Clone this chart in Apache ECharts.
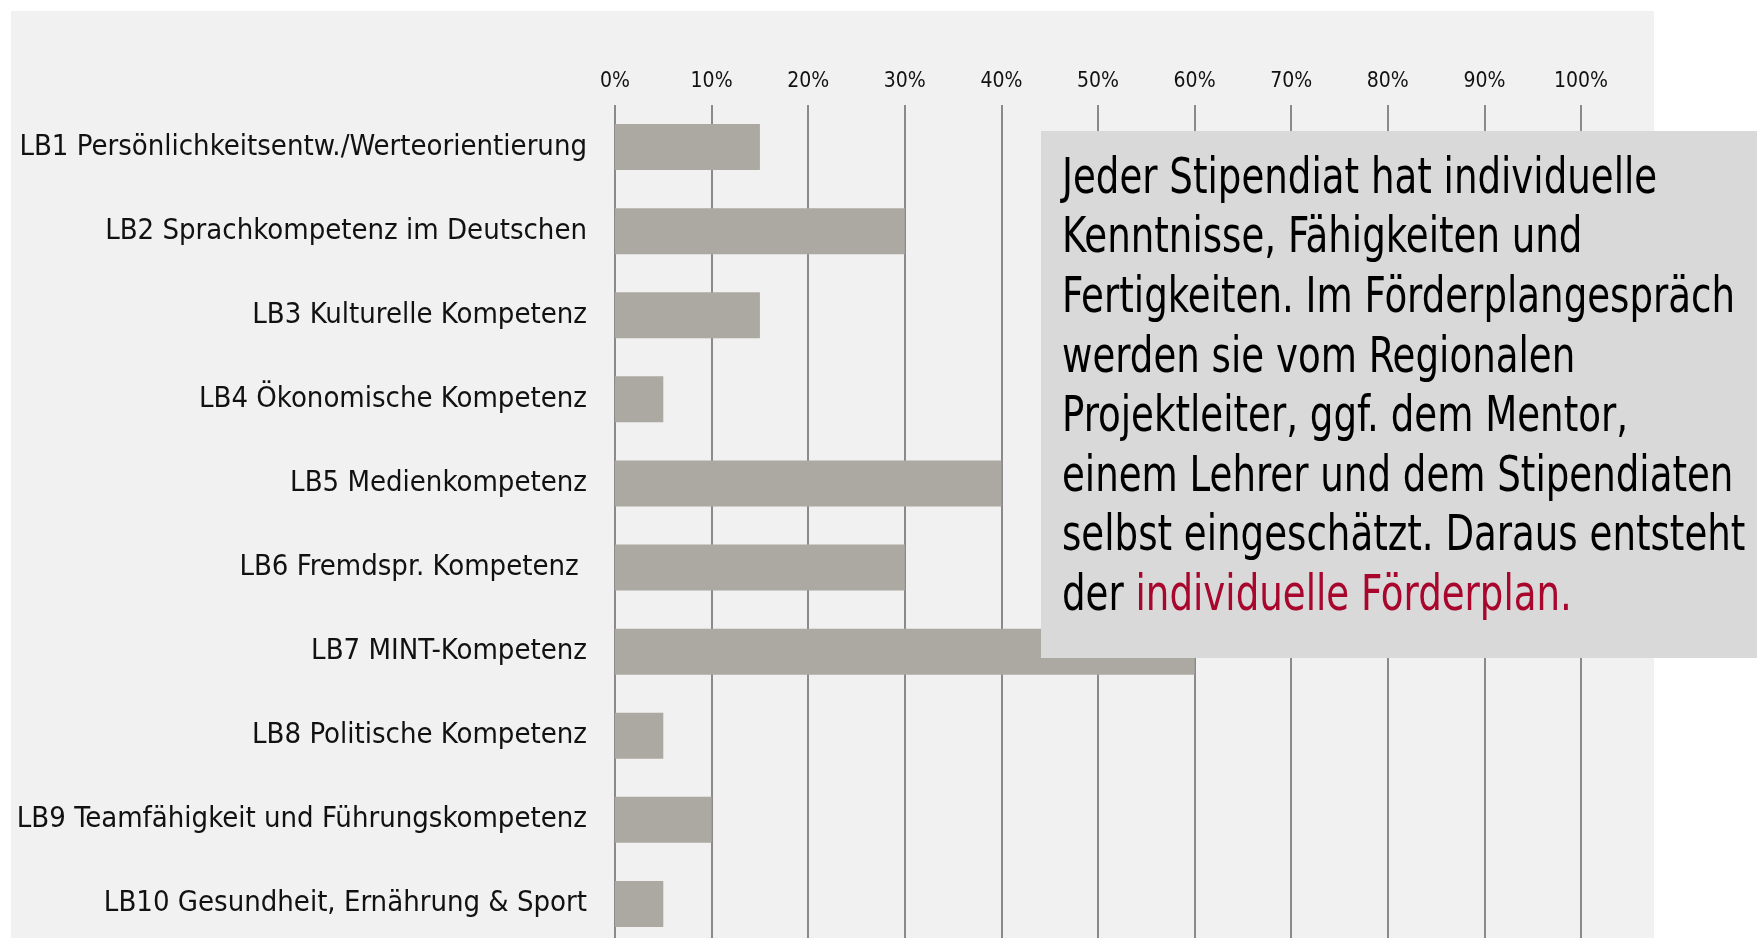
<!DOCTYPE html>
<html>
<head>
<meta charset="utf-8">
<script src="https://cdn.jsdelivr.net/npm/echarts@6/dist/echarts.min.js"></script>
<style>
html,body{margin:0;padding:0;background:#fff;}
#c{width:1757px;height:938px;}
</style>
</head>
<body>
<div id="c"></div>
<script>
const categories = [
  'LB1 Persönlichkeitsentw./Werteorientierung',
  'LB2 Sprachkompetenz im Deutschen',
  'LB3 Kulturelle Kompetenz',
  'LB4 Ökonomische Kompetenz',
  'LB5 Medienkompetenz',
  'LB6 Fremdspr. Kompetenz ',
  'LB7 MINT-Kompetenz',
  'LB8 Politische Kompetenz',
  'LB9 Teamfähigkeit und Führungskompetenz',
  'LB10 Gesundheit, Ernährung & Sport'
];
const values = [15, 30, 15, 5, 40, 30, 60, 5, 10, 5];
const tickLabels = ['0%','10%','20%','30%','40%','50%','60%','70%','80%','90%','100%'];
const noteLines = [
  'Jeder Stipendiat hat individuelle',
  'Kenntnisse, Fähigkeiten und',
  'Fertigkeiten. Im Förderplangespräch',
  'werden sie vom Regionalen',
  'Projektleiter, ggf. dem Mentor,',
  'einem Lehrer und dem Stipendiaten',
  'selbst eingeschätzt. Daraus entsteht'
];
const noteLastPlain = 'der ';
const noteLastRed = 'individuelle Förderplan.';

const FONT = "'Liberation Sans Narrow', 'DejaVu Sans Condensed', 'Arial Narrow', sans-serif";

const chart = echarts.init(document.getElementById('c'), null, {renderer: 'canvas'});
const noteText = noteLines.map(l => '{b|' + l + '}').join('\n') + '\n{b|' + noteLastPlain + '}{r|' + noteLastRed + '}';

chart.setOption({
  animation: false,
  backgroundColor: 'transparent',
  grid: {left: 615, width: 966, top: 105, height: 841, containLabel: false, outerBoundsMode: 'none'},
  xAxis: {
    type: 'value', position: 'top', min: 0, max: 100, interval: 10,
    axisLine: {show: false}, axisTick: {show: false},
    axisLabel: {
      fontFamily: FONT, fontSize: 21, color: '#111', margin: 13,
      formatter: function (v) { return tickLabels[Math.round(v / 10)]; }
    },
    splitLine: {show: true, lineStyle: {color: '#8a8a8a', width: 2}}
  },
  yAxis: {
    type: 'category', inverse: true, data: categories,
    axisLine: {show: false}, axisTick: {show: false},
    axisLabel: {fontFamily: FONT, fontSize: 29, color: '#111', margin: 28}
  },
  series: [{
    type: 'bar', data: values, barWidth: 46,
    itemStyle: {color: '#aca9a2'}
  }],
  graphic: [
    {type: 'rect', silent: true, z: -100, shape: {x: 11, y: 11, width: 1643, height: 940},
     style: {fill: '#f1f1f1'}},
    {type: 'rect', silent: true, z: 100, shape: {x: 1041, y: 131, width: 730, height: 527},
     style: {fill: '#d9d9d9'}},
    {type: 'text', silent: true, z: 101, x: 1062, y: 150, scaleX: 0.826,
     style: {
       text: noteText,
       rich: {
         b: {fontFamily: FONT, fontSize: 50, lineHeight: 59.6, fill: '#000'},
         r: {fontFamily: FONT, fontSize: 50, lineHeight: 59.6, fill: '#a8062c'}
       },
       verticalAlign: 'top'
     }}
  ]
});
</script>
</body>
</html>
